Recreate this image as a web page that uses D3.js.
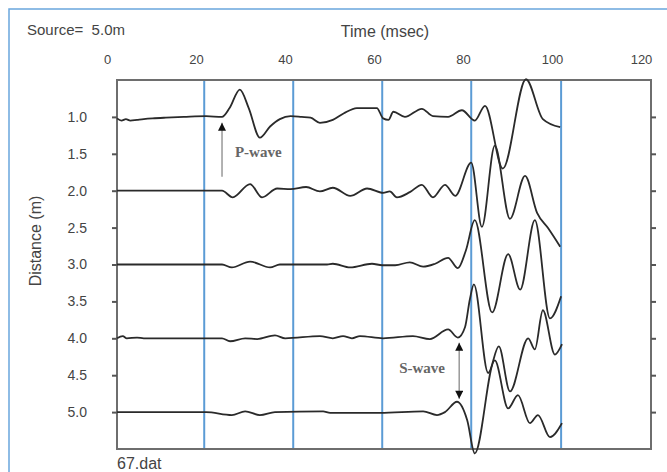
<!DOCTYPE html>
<html>
<head>
<meta charset="utf-8">
<title>Seismic traces</title>
<script src="https://d3js.org/d3.v7.min.js"></script>
<style>
    body { margin: 0; background: #fff; }
    svg text { font-family: "Liberation Sans", Arial, sans-serif; fill: #444; }
    .trace { fill: none; stroke: #2a2a2a; stroke-width: 1.8; }
    .marker-line { stroke: #5b9bd5; stroke-width: 2; }
    .frame { fill: none; stroke: #6e6e6e; stroke-width: 2; }
    .axis line { stroke: #555; stroke-width: 2; }
    .axis path { display: none; }
    .note { font-family: "Liberation Serif", "Times New Roman", serif; font-weight: bold; fill: #666; }
</style>
</head>
<body>
<svg id="chart" width="667" height="472"></svg>
<script>
// axis ticks
var timeTicks = [0, 20, 40, 60, 80, 100, 120];
var distTicks = [1.0, 1.5, 2.0, 2.5, 3.0, 3.5, 4.0, 4.5, 5.0];
// hand drawn blue time markers (msec)
var markerTimes = [19.6, 39.6, 59.6, 79.6, 99.8];

// receiver distances (m)
var traceDistances = [1, 2, 3, 4, 5];

// traces: [time msec, amplitude (m offset, up = positive)]
var trace1 = [[0,-0.02],[1,-0.05],[2,-0.03],[3,-0.05],[4.5,-0.04],[6,-0.03],[8,-0.02],[11,-0.01],[15,0],[20,0.01],
    [23.6,0],[25.3,0.12],[27.6,0.37],[29.6,0.12],[32.1,-0.28],[34.4,-0.13],[36.6,-0.03],[39,0.01],[41.5,0],[43.5,-0.01],
    [45.6,-0.08],[48.5,-0.04],[51,0.05],[53.9,0.12],[58.4,0.12],[59.8,-0.02],[61,-0.04],[62.1,0.07],[64.7,0],[68.5,0.11],
    [71,0.01],[74.4,0],[77.5,0.09],[80.4,-0.05],[82.7,0.15],[86.7,-0.70],[91.9,0.51],[95.7,-0.03],[99.6,-0.14]];
var trace2 = [[0,0],[23.6,0],[26,-0.09],[29.9,0.09],[32.6,-0.09],[36,0.03],[39,0.02],[42.5,0.05],[45.6,-0.01],[48.5,0.04],
    [52.4,-0.07],[56.2,0.03],[59.8,-0.03],[61.3,-0.01],[62.9,-0.09],[65.8,-0.02],[68.5,0.08],[71,-0.09],[73.7,0.08],[76,-0.07],
    [79.6,0.38],[82,-0.49],[84.9,0.61],[88.3,-0.38],[91.7,0.20],[94.4,-0.30],[96.9,-0.51],[99.6,-0.76]];
var trace3 = [[0,0],[23.6,0],[25.8,-0.04],[29.9,0.04],[34.4,-0.04],[36.6,0],[47.2,0],[48.5,0.01],[52.4,-0.04],[57.3,0.01],
    [59.6,-0.01],[62.5,-0.01],[65.8,0.03],[68.8,-0.03],[71.5,0.01],[74.4,0.09],[76.6,-0.05],[78.4,0.19],[80.4,0.60],[84.3,-0.65],
    [87.9,0.14],[90.6,-0.34],[93.9,0.60],[97.3,-0.73],[99.8,-0.43]];
var trace4 = [[0,0],[1.3,0.03],[2.2,0],[4.5,0.01],[6,0],[23.6,0],[25.4,-0.04],[28.8,0],[31.5,-0.01],[35.5,0.04],
    [37.8,0],[45.6,0.03],[48.5,0],[50.8,0.03],[52.8,0],[54.6,0.03],[59.8,0],[66.5,0.03],[70.3,-0.01],[74.4,0.12],
    [76.6,0.01],[78.2,0.15],[79.3,0.53],[80.2,0.73],[83.4,-0.47],[85.8,-0.11],[88.3,-0.72],[92.4,0],[93.9,-0.15],[95.7,0.38],
    [98.4,-0.22],[100,-0.08]];
var trace5 = [[0,0],[20,0],[25.8,-0.04],[28.8,0.01],[32.1,-0.04],[35.5,0],[46.3,0.01],[47.9,-0.01],[59.1,-0.01],[68.8,0.01],
    [71.9,-0.04],[73.7,0],[76.4,0.14],[78.7,-0.11],[80.4,-0.56],[84.9,0.70],[87.9,0.05],[90.1,0.23],[92.8,-0.15],[94.6,-0.04],
    [97.3,-0.34],[100,-0.15]];
var traces = [trace1, trace2, trace3, trace4, trace5];

// annotations (time msec, distance m)
var pArrow = { t: 23.6, from: 1.81, to: 1.08 };
var pLabel = { t: 26.5, d: 1.54, text: "P-wave" };
var sArrow = { t: 76.9, from: 4.06, to: 4.82 };
var sLabel = { t: 73.7, d: 4.47, text: "S-wave" };

var svg = d3.select('#chart');

var x = d3.scaleLinear().domain([0, 120]).range([117, 651]);
var y = d3.scaleLinear().domain([0.5, 5.5]).range([80, 449]);

// outer blue border
svg.append('rect')
    .attr('x', 9).attr('y', 9)
    .attr('width', 700).attr('height', 500)
    .attr('fill', 'none')
    .attr('stroke', '#6aa7dd')
    .attr('stroke-width', 1.5);

// blue time markers
svg.selectAll('.marker-line')
    .data(markerTimes)
    .enter()
    .append('line')
    .attr('class', 'marker-line')
    .attr('x1', function (d) { return x(d); })
    .attr('x2', function (d) { return x(d); })
    .attr('y1', y(0.5))
    .attr('y2', y(5.5));

// frame
svg.append('rect')
    .attr('class', 'frame')
    .attr('x', x(0)).attr('y', y(0.5))
    .attr('width', x(120) - x(0))
    .attr('height', y(5.5) - y(0.5));

// axes
var leftAxis = svg.append('g')
    .attr('class', 'axis')
    .attr('transform', 'translate(' + x(0) + ',0)')
    .call(d3.axisLeft(y).tickValues(distTicks).tickFormat(d3.format('.1f')).tickSize(5).tickPadding(25));
leftAxis.selectAll('text').style('font-size', '14px').attr('fill', '#444');

svg.append('g')
    .attr('class', 'axis')
    .attr('transform', 'translate(' + x(120) + ',0)')
    .call(d3.axisRight(y).tickValues(distTicks).tickFormat('').tickSize(5));

var topAxis = svg.append('g')
    .attr('class', 'axis')
    .attr('transform', 'translate(0,' + y(0.5) + ')')
    .call(d3.axisTop(x).tickValues(timeTicks).tickSize(0).tickPadding(16));
topAxis.selectAll('text').attr('x', -10).style('font-size', '13px').attr('fill', '#444');

// traces
var line = d3.line()
    .x(function (d) { return x(d[0]); })
    .curve(d3.curveMonotoneX);

traces.forEach(function (tr, i) {
    var base = traceDistances[i];
    svg.append('path')
        .datum(tr)
        .attr('class', 'trace')
        .attr('d', line.y(function (d) { return y(base - d[1]); }));
});

// arrow heads
var defs = svg.append('defs');
defs.append('marker')
    .attr('id', 'head')
    .attr('viewBox', '0 0 10 10')
    .attr('refX', 10).attr('refY', 5)
    .attr('markerUnits', 'userSpaceOnUse')
    .attr('markerWidth', 9).attr('markerHeight', 8)
    .attr('orient', 'auto-start-reverse')
    .append('path')
    .attr('d', 'M0,0L10,5L0,10Z')
    .attr('fill', '#111');

svg.append('line')
    .attr('x1', x(pArrow.t)).attr('x2', x(pArrow.t))
    .attr('y1', y(pArrow.from)).attr('y2', y(pArrow.to))
    .attr('stroke', '#999').attr('stroke-width', 1.5)
    .attr('marker-end', 'url(#head)');

svg.append('text')
    .attr('class', 'note')
    .attr('x', x(pLabel.t)).attr('y', y(pLabel.d))
    .style('font-size', '15px')
    .text(pLabel.text);

svg.append('line')
    .attr('x1', x(sArrow.t)).attr('x2', x(sArrow.t))
    .attr('y1', y(sArrow.from)).attr('y2', y(sArrow.to))
    .attr('stroke', '#999').attr('stroke-width', 1.5)
    .attr('marker-start', 'url(#head)')
    .attr('marker-end', 'url(#head)');

svg.append('text')
    .attr('class', 'note')
    .attr('x', x(sLabel.t)).attr('y', y(sLabel.d))
    .attr('text-anchor', 'end')
    .style('font-size', '15px')
    .text(sLabel.text);

// titles
svg.append('text')
    .attr('x', 27).attr('y', 35)
    .style('font-size', '15px')
    .style('white-space', 'pre')
    .text('Source=  5.0m');

svg.append('text')
    .attr('x', 385).attr('y', 37)
    .attr('text-anchor', 'middle')
    .style('font-size', '16px')
    .text('Time (msec)');

svg.append('text')
    .attr('transform', 'translate(41,241) rotate(-90)')
    .attr('text-anchor', 'middle')
    .style('font-size', '16px')
    .text('Distance (m)');

svg.append('text')
    .attr('x', 117).attr('y', 469)
    .style('font-size', '16px')
    .text('67.dat');
</script>
</body>
</html>
